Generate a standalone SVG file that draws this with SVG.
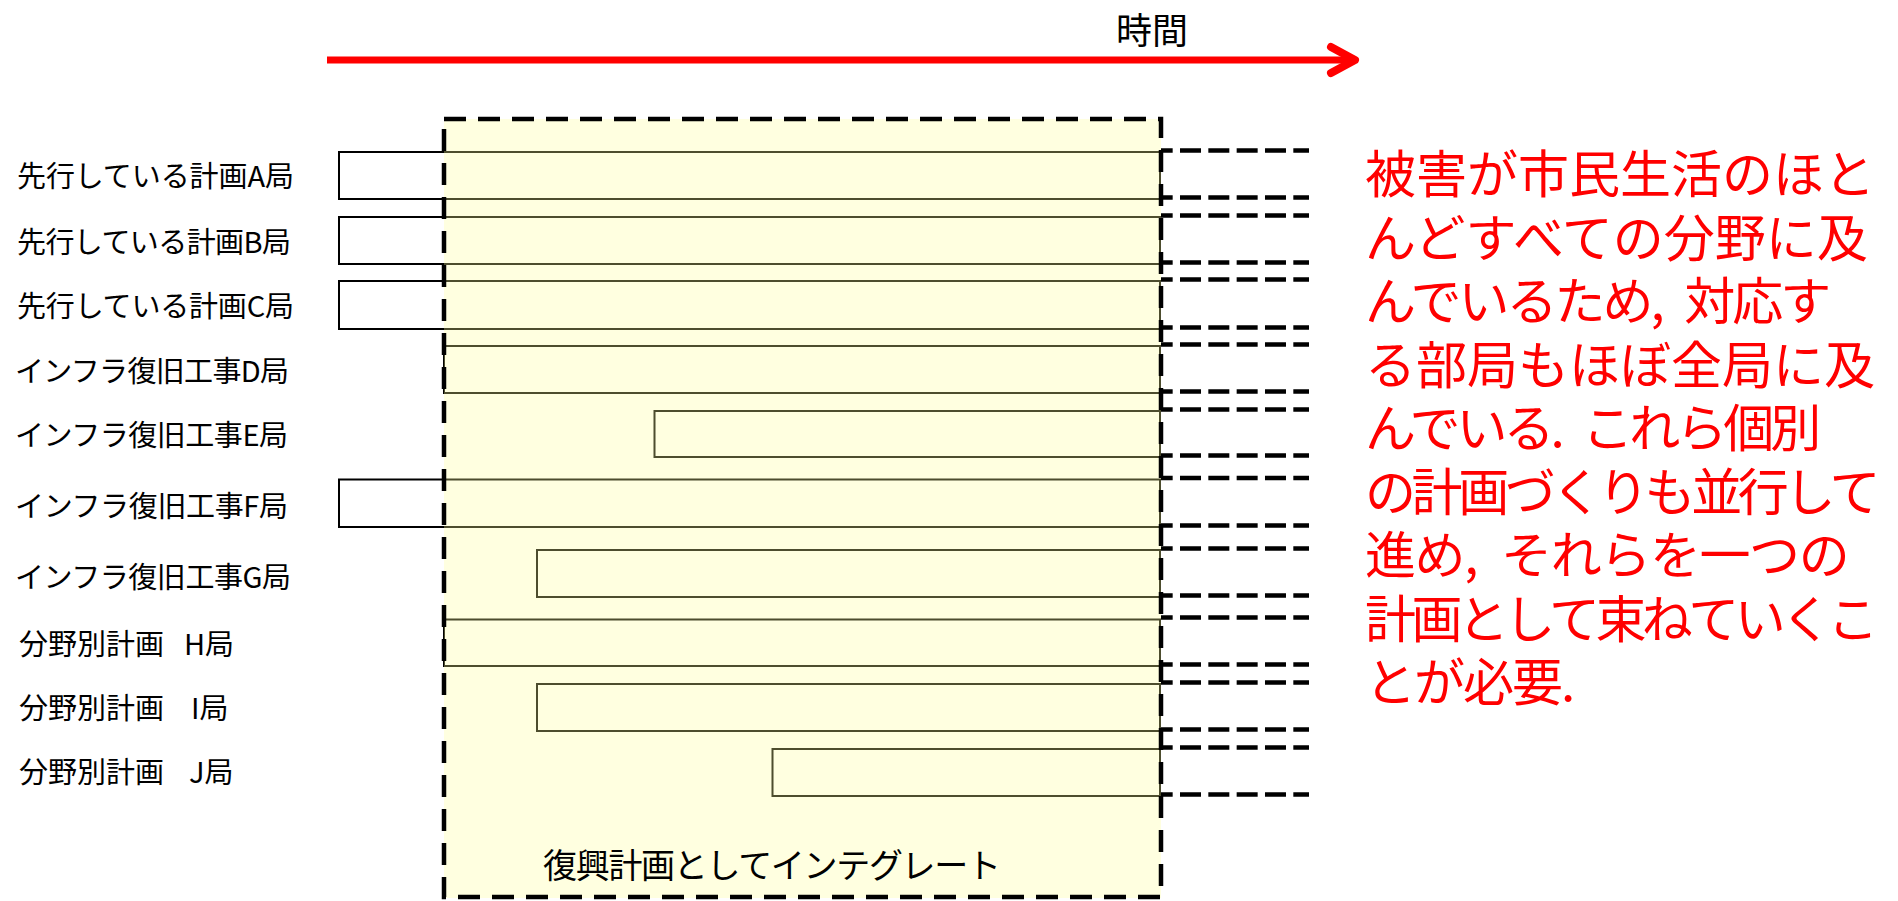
<svg xmlns="http://www.w3.org/2000/svg" width="1898" height="901" viewBox="0 0 1898 901">
  <style>
    .bar { fill: #FFFFFF; stroke: #000000; stroke-width: 2; }
    .ext { stroke: #000000; stroke-width: 4.5; stroke-dasharray: 21 7.33; stroke-dashoffset: 9.33; fill: none; }
    .lbl { font-family: "Noto Sans CJK JP", "Noto Sans CJK SC", sans-serif; font-size: 29px; fill: #000000; }
    .note { font-family: "Noto Sans CJK JP", "Noto Sans CJK SC", sans-serif; font-size: 51px; fill: #FF0000; }
  </style>
  <rect x="0" y="0" width="1898" height="901" fill="#FFFFFF"/>

  <g id="time-axis">
    <line x1="327" y1="60" x2="1350" y2="60" stroke="#FF0000" stroke-width="7"/>
    <polyline points="1331,47 1355,60 1331,73" fill="none" stroke="#FF0000" stroke-width="8" stroke-linecap="round" stroke-linejoin="round"/>
    <text x="1116" y="44" font-family="Noto Sans CJK JP, Noto Sans CJK SC, sans-serif" font-size="36" fill="#000000">時間</text>
  </g>

  <g id="bars">
    <rect id="bar-A" class="bar" x="339" y="152" width="821" height="47"/>
    <rect id="bar-B" class="bar" x="339" y="217" width="821" height="47"/>
    <rect id="bar-C" class="bar" x="339" y="281" width="821" height="48"/>
    <rect id="bar-D" class="bar" x="444" y="346" width="716" height="47"/>
    <rect id="bar-E" class="bar" x="654.5" y="411" width="505.5" height="46"/>
    <rect id="bar-F" class="bar" x="339" y="479.5" width="821" height="47.5"/>
    <rect id="bar-G" class="bar" x="537" y="550" width="623" height="47"/>
    <rect id="bar-H" class="bar" x="444" y="619.5" width="716" height="46.5"/>
    <rect id="bar-I" class="bar" x="537" y="684" width="623" height="47"/>
    <rect id="bar-J" class="bar" x="772.5" y="749" width="387.5" height="47"/>
  </g>

  <g id="integrate-box">
    <rect x="444" y="119" width="717" height="779" fill="#FFFF99" fill-opacity="0.3"/>
    <rect x="444" y="119" width="717" height="778" fill="none" stroke="#000000" stroke-width="4.5" stroke-dasharray="22 12"/>
    <text x="543" y="878" font-family="Noto Sans CJK JP, Noto Sans CJK SC, sans-serif" font-size="34" fill="#000000" textLength="458" lengthAdjust="spacing">復興計画としてインテグレート</text>
  </g>

  <g id="connectors">
    <line class="ext" x1="1161" y1="150.5" x2="1309" y2="150.5"/>
    <line class="ext" x1="1161" y1="197.5" x2="1309" y2="197.5"/>
    <line class="ext" x1="1161" y1="215.5" x2="1309" y2="215.5"/>
    <line class="ext" x1="1161" y1="262.5" x2="1309" y2="262.5"/>
    <line class="ext" x1="1161" y1="279.5" x2="1309" y2="279.5"/>
    <line class="ext" x1="1161" y1="327.5" x2="1309" y2="327.5"/>
    <line class="ext" x1="1161" y1="344.5" x2="1309" y2="344.5"/>
    <line class="ext" x1="1161" y1="391.5" x2="1309" y2="391.5"/>
    <line class="ext" x1="1161" y1="409.5" x2="1309" y2="409.5"/>
    <line class="ext" x1="1161" y1="455.5" x2="1309" y2="455.5"/>
    <line class="ext" x1="1161" y1="478" x2="1309" y2="478"/>
    <line class="ext" x1="1161" y1="525.5" x2="1309" y2="525.5"/>
    <line class="ext" x1="1161" y1="548.5" x2="1309" y2="548.5"/>
    <line class="ext" x1="1161" y1="595.5" x2="1309" y2="595.5"/>
    <line class="ext" x1="1161" y1="617.5" x2="1309" y2="617.5"/>
    <line class="ext" x1="1161" y1="664.5" x2="1309" y2="664.5"/>
    <line class="ext" x1="1161" y1="682.5" x2="1309" y2="682.5"/>
    <line class="ext" x1="1161" y1="729.5" x2="1309" y2="729.5"/>
    <line class="ext" x1="1161" y1="747.5" x2="1309" y2="747.5"/>
    <line class="ext" x1="1161" y1="794.5" x2="1309" y2="794.5"/>
  </g>

  <g id="labels">
    <text id="label-A" class="lbl" x="17" y="187" textLength="277" lengthAdjust="spacing">先行している計画A局</text>
    <text id="label-B" class="lbl" x="17" y="252.5" textLength="274" lengthAdjust="spacing">先行している計画B局</text>
    <text id="label-C" class="lbl" x="17" y="317" textLength="277" lengthAdjust="spacing">先行している計画C局</text>
    <text id="label-D" class="lbl" x="15" y="382" textLength="274" lengthAdjust="spacing">インフラ復旧工事D局</text>
    <text id="label-E" class="lbl" x="15" y="445.5" textLength="273" lengthAdjust="spacing">インフラ復旧工事E局</text>
    <text id="label-F" class="lbl" x="15" y="517" textLength="273" lengthAdjust="spacing">インフラ復旧工事F局</text>
    <text id="label-G" class="lbl" x="15" y="587.5" textLength="276" lengthAdjust="spacing">インフラ復旧工事G局</text>
    <text id="label-H" class="lbl" x="19" y="655"><tspan>分野別計画</tspan><tspan x="184">H局</tspan></text>
    <text id="label-I" class="lbl" x="19" y="718.5"><tspan>分野別計画</tspan><tspan x="191">I局</tspan></text>
    <text id="label-J" class="lbl" x="19" y="783"><tspan>分野別計画</tspan><tspan x="189">J局</tspan></text>
  </g>

  <g id="note">
    <text class="note"><tspan x="1365" y="193">被害が市民生活のほと</tspan><tspan x="1365" y="256.5">んどすべての分野に及</tspan><tspan x="1365" y="320" letter-spacing="-3">んでいるため,&#8194;対応す</tspan><tspan x="1365" y="383.5" letter-spacing="0">る部局もほぼ全局に及</tspan><tspan x="1365" y="447" letter-spacing="-4">んでいる.&#8194;これら個別</tspan><tspan x="1365" y="510.5" letter-spacing="-4.4">の計画づくりも並行して</tspan><tspan x="1365" y="574" letter-spacing="-1.4">進め,&#8194;それらを一つの</tspan><tspan x="1365" y="637.5" letter-spacing="-4.6">計画として束ねていくこ</tspan><tspan x="1365" y="701" letter-spacing="-2">とが必要.</tspan></text>
  </g>
</svg>
